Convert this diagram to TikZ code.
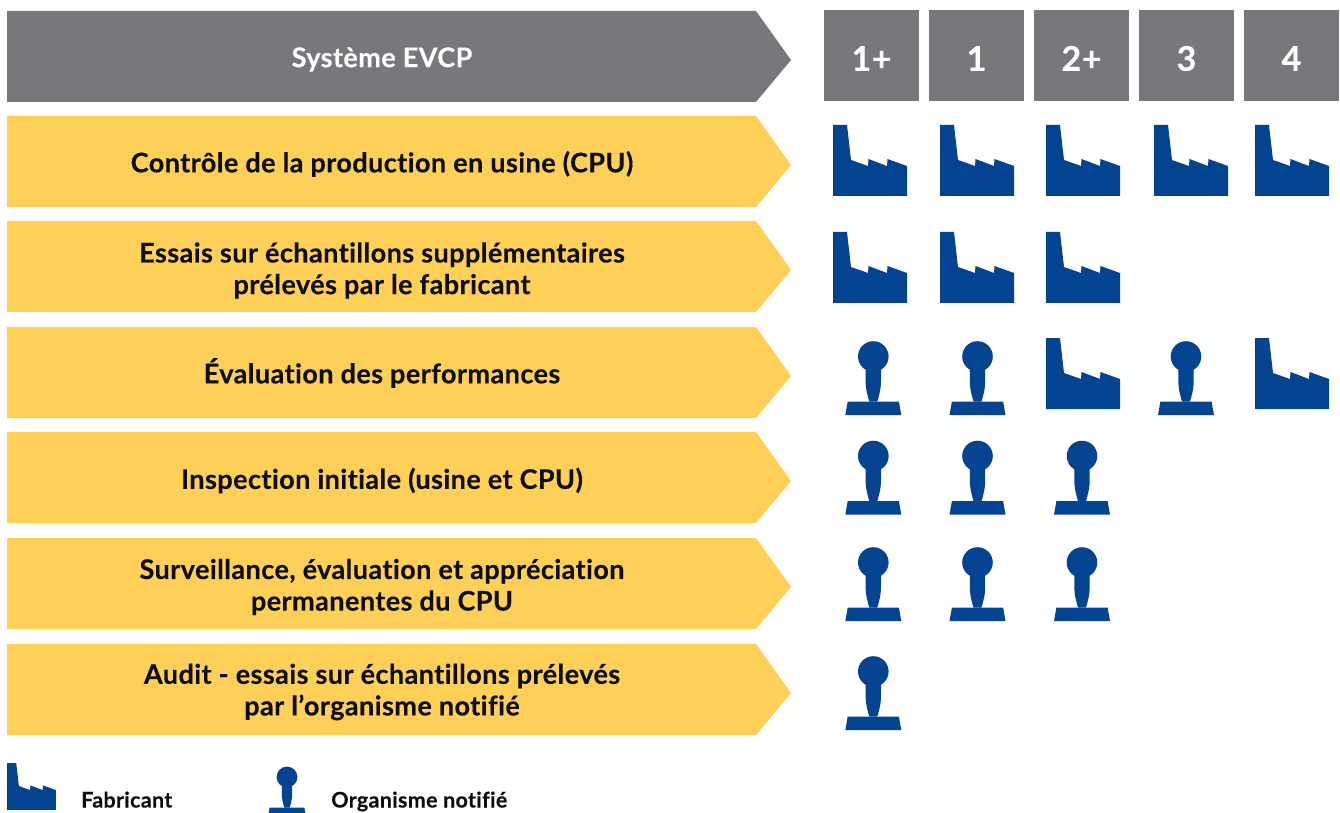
\documentclass[tikz,border=0pt]{standalone}
\usepackage{fontspec}
\setmainfont{Lato}[BoldFont={Lato Bold},BoldFeatures={LetterSpace=1.5,Ligatures=NoCommon,FakeBold=0.25}]
\definecolor{evgrey}{HTML}{77787B}
\definecolor{evyellow}{HTML}{FFD057}
\definecolor{evblue}{HTML}{03438F}
\definecolor{evtext}{HTML}{0D0D0D}
\tikzset{
  rowlabel/.style={font=\fontsize{20.3}{23.7}\selectfont\bfseries,text=evtext,align=center,anchor=center},
  headlabel/.style={font=\fontsize{20.3}{24}\selectfont\bfseries,text=white,align=center,anchor=center},
  numlabel/.style={font=\fontsize{25.6}{28}\selectfont\bfseries,text=white,anchor=center,minimum width=71.25pt,minimum height=68.25pt,fill=evgrey,inner sep=0pt,text depth=0pt,text height=23pt},
  legendlabel/.style={font=\fontsize{16.1}{18}\selectfont\bfseries,text=evtext,anchor=base west,inner sep=0pt},
  pics/factory/.style={code={
    \fill[evblue] (0,0) -- (14,0) -- (18,35) -- (35,41) -- (35.5,34) -- (54,41) -- (54.5,34) -- (74,41) -- (74,71) -- (0,71) -- cycle;
  }},
  pics/stamp/.style={code={
    \fill[evblue] (0,0) circle[radius=15.3];
    \fill[evblue] (-7.7,8) -- (-7.7,24) .. controls (-7.7,33) and (-5.5,40) .. (-4,45) -- (4,45) .. controls (5.5,40) and (7.7,33) .. (7.7,24) -- (7.7,8) -- cycle;
    \fill[evblue] (-25.6,45) -- (25.6,45) -- (28,58.7) -- (-28,58.7) -- cycle;
  }}
}
\newcommand{\evbar}[2]{%
  \fill[#1] (7,#2) -- (756,#2) -- (791,#2+49) -- (756,#2+91) -- (7,#2+91) -- cycle;
}
\begin{document}
\begin{tikzpicture}[x=0.75pt,y=-0.75pt]
\useasboundingbox (0,0) rectangle (1340,813);
\clip (0,0) rectangle (1340,813);
\evbar{evgrey}{11}
\evbar{evyellow}{116}
\evbar{evyellow}{221}
\evbar{evyellow}{327}
\evbar{evyellow}{432}
\evbar{evyellow}{538}
\evbar{evyellow}{644}
\node[headlabel] (head) at (382,59.5) {Système EVCP};
\node[rowlabel] (r1) at (382,164) {Contrôle de la production en usine (CPU)};
\node[rowlabel] (r2) at (382,270.5) {Essais sur échantillons supplémentaires\\prélevés par le fabricant};
\node[rowlabel] (r3) at (382,373) {Évaluation des performances};
\node[rowlabel] (r4) at (382,480.5) {Inspection initiale (usine et CPU)};
\node[rowlabel] (r5) at (382,587) {Surveillance, évaluation et appréciation\\permanentes du CPU};
\node[rowlabel] (r6) at (382,692) {Audit - essais sur échantillons prélevés\\par l’organisme notifié};
\node[numlabel] (n1) at (871.5,55.5) {1+};
\node[numlabel] (n2) at (976.5,55.5) {1};
\node[numlabel] (n3) at (1081.5,55.5) {2+};
\node[numlabel] (n4) at (1186.5,55.5) {3};
\node[numlabel] (n5) at (1291.5,55.5) {4};
\foreach \x in {833,940,1046,1154,1255} \pic at (\x,125) {factory};
\foreach \x in {833,940,1046} \pic at (\x,232) {factory};
\foreach \x in {1046,1255} \pic at (\x,338) {factory};
\foreach \x in {873.3,977.5,1186} \pic at (\x,356.5) {stamp};
\foreach \x in {873.3,977.5,1082} \pic at (\x,456) {stamp};
\foreach \x in {873.3,977.5,1082} \pic at (\x,562.5) {stamp};
\pic at (873.3,671.5) {stamp};
\begin{scope}[shift={(7,763)},x=0.495pt,y=-0.495pt]
\pic {factory};
\end{scope}
\begin{scope}[shift={(287,777)},x=0.51pt,y=-0.51pt]
\pic {stamp};
\end{scope}
\node[legendlabel] (l1) at (81,807.5) {Fabricant};
\node[legendlabel] (l2) at (331,807.5) {Organisme notifié};
\end{tikzpicture}
\end{document}
